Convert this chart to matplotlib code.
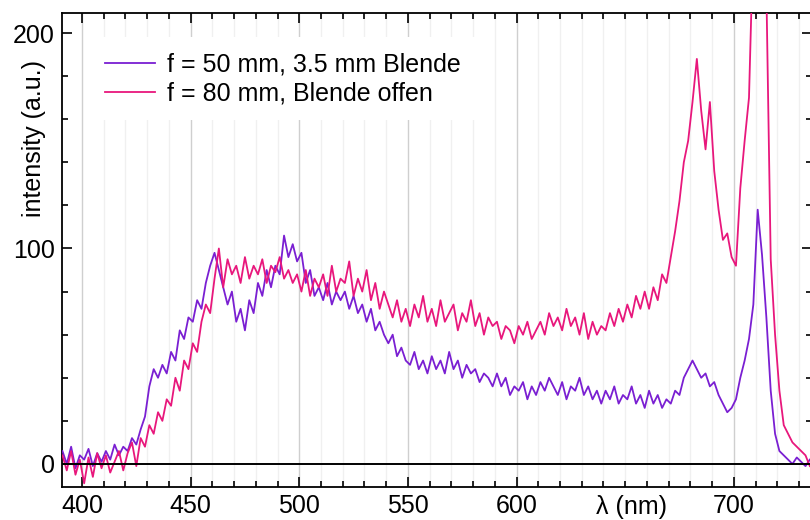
import numpy as np
import matplotlib
matplotlib.use("Agg")
import matplotlib.pyplot as plt
from matplotlib.ticker import MultipleLocator

plt.rcParams["font.family"] = ["Liberation Sans", "DejaVu Sans"]

# wavelength grid (nm), 2 nm steps from 391 to 735
wavelength = np.arange(391, 736, 2)

# f = 50 mm, 3.5 mm Blende
f50 = [
    6, 0, 8, -2, 4,
    2, 7, -1, 5, 1,
    6, 2, 9, 4, 8,
    6, 12, 9, 16, 22,
    36, 44, 40, 46, 42,
    52, 48, 62, 58, 68,
    66, 76, 72, 84, 92,
    98, 90, 82, 74, 80,
    66, 72, 62, 76, 70,
    84, 78, 90, 82, 92,
    88, 106, 96, 102, 94,
    98, 84, 90, 78, 82,
    76, 84, 74, 80, 76,
    80, 72, 78, 70, 74,
    66, 72, 62, 66, 60,
    56, 60, 50, 54, 48,
    46, 52, 44, 48, 42,
    50, 44, 48, 42, 52,
    44, 48, 40, 46, 42,
    44, 38, 42, 40, 36,
    42, 36, 40, 32, 36,
    34, 38, 30, 36, 32,
    38, 34, 40, 36, 32,
    38, 30, 36, 34, 40,
    32, 36, 30, 34, 28,
    34, 30, 36, 28, 32,
    30, 36, 28, 32, 26,
    34, 28, 32, 26, 30,
    28, 34, 32, 40, 44,
    48, 44, 40, 42, 36,
    38, 32, 28, 24, 26,
    30, 40, 48, 58, 74,
    118, 97, 68, 34, 14,
    6, 4, 2, 0, 3,
    1, -1, 2,
]

# f = 80 mm, Blende offen
f80 = [
    4, -3, 6, -5, 2,
    -9, 3, -6, 5, -2,
    4, -4, 1, 6, -3,
    5, 10, -1, 12, 8,
    18, 14, 24, 20, 30,
    27, 40, 34, 48, 44,
    56, 52, 66, 74, 70,
    86, 100, 82, 95, 88,
    92, 84, 96, 86, 92,
    88, 95, 84, 92, 89,
    96, 86, 90, 84, 88,
    80, 90, 78, 86, 82,
    88, 78, 92, 80, 86,
    84, 94, 78, 86, 80,
    90, 76, 84, 72, 80,
    74, 68, 76, 66, 72,
    64, 74, 68, 78, 66,
    72, 64, 76, 66, 70,
    74, 62, 70, 66, 76,
    64, 70, 60, 68, 64,
    66, 58, 64, 62, 56,
    64, 60, 66, 58, 62,
    66, 60, 70, 64, 68,
    62, 72, 64, 68, 60,
    70, 58, 66, 60, 64,
    62, 70, 64, 72, 66,
    74, 68, 78, 72, 80,
    72, 82, 76, 88, 84,
    96, 108, 122, 140, 150,
    168, 188, 164, 146, 168,
    136, 118, 104, 107, 96,
    92, 128, 150, 170, 245,
    330, 310, 220, 95, 60,
    34, 18, 14, 10, 8,
    6, 4, -1,
]

labels = ["f = 50 mm, 3.5 mm Blende", "f = 80 mm, Blende offen"]
colors = ["#7a1fd2", "#e8177c"]

fig = plt.figure(figsize=(8.1, 5.2), dpi=100)
ax = fig.add_axes([62 / 810, 33 / 520, 750 / 810, 474 / 520])

ax.plot(wavelength, f50, color=colors[0], lw=1.3, label=labels[0], zorder=3)
ax.plot(wavelength, f80, color=colors[1], lw=1.3, label=labels[1], zorder=3)
ax.axhline(0, color="black", lw=1.4, zorder=4)

ax.set_xlim(390.8, 736)
ax.set_ylim(-10.7, 209.3)

ax.yaxis.set_major_locator(MultipleLocator(100))
ax.yaxis.set_minor_locator(MultipleLocator(20))
ax.set_xticks([400, 450, 500, 550, 600, 700])
ax.set_xticks(np.arange(400, 740, 10), minor=True)

ax.grid(axis="x", which="major", color="#cfcfcf", lw=1.0, zorder=0)
ax.grid(axis="x", which="minor", color="#f0f0f0", lw=1.0, zorder=0)

ax.tick_params(which="both", direction="in", top=True, right=True,
               labelsize=18, width=1.2, pad=5)
ax.tick_params(which="major", length=7)
ax.tick_params(which="minor", length=4)
for s in ax.spines.values():
    s.set_linewidth(1.3)

ax.set_xlabel("λ (nm)", fontsize=18)
ax.xaxis.set_label_coords(0.76, -0.016, transform=ax.transAxes)
ax.xaxis.label.set_va("top")
ax.set_ylabel("intensity (a.u.)", fontsize=18)
ax.yaxis.set_label_coords(-0.022, 0.735)

leg = ax.legend(loc="upper left", bbox_to_anchor=(0.02, 0.975), fontsize=18,
                frameon=True, facecolor="white", edgecolor="none", framealpha=1,
                handlelength=2.0, handletextpad=0.5, labelspacing=0.2,
                borderpad=0.6, fancybox=False)
leg.set_zorder(2)

fig.savefig("out.png", dpi=100)
